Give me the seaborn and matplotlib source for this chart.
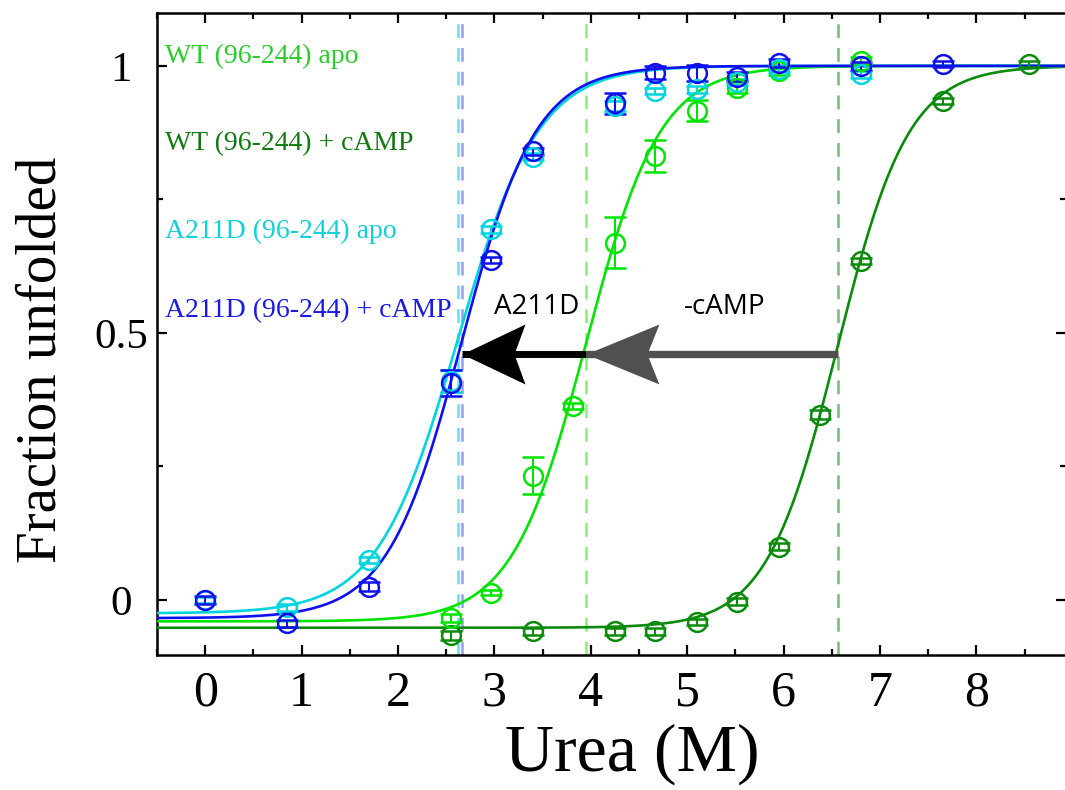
import numpy as np
import pandas as pd
import matplotlib
matplotlib.use("Agg")
import matplotlib.pyplot as plt
import seaborn as sns
from matplotlib.path import Path

# ---- measured unfolding data (urea in M, fraction unfolded, error) ----
wt_apo_urea = [2.55, 2.97, 3.40, 3.82, 4.25, 4.67, 5.10, 5.52, 5.95, 6.80]
wt_apo_frac = [-0.034, 0.014, 0.233, 0.363, 0.669, 0.831, 0.916, 0.959, 0.990, 1.010]
wt_apo_err = [0.008, 0.005, 0.034, 0.006, 0.048, 0.030, 0.020, 0.010, 0.008, 0.006]

wt_camp_urea = [2.55, 3.40, 4.25, 4.67, 5.10, 5.52, 5.95, 6.38, 6.80, 7.65, 8.55]
wt_camp_frac = [-0.066, -0.059, -0.059, -0.059, -0.041, -0.003, 0.100, 0.347, 0.635, 0.934, 1.003]
wt_camp_err = [0.008, 0.006, 0.006, 0.006, 0.006, 0.006, 0.006, 0.008, 0.006, 0.006, 0.006]

mut_apo_urea = [0.00, 0.85, 1.70, 2.55, 2.97, 3.40, 4.25, 4.67, 5.10, 5.52, 5.95, 6.80]
mut_apo_frac = [0.000, -0.014, 0.075, 0.410, 0.694, 0.830, 0.925, 0.953, 0.956, 0.970, 0.994, 0.984]
mut_apo_err = [0.006, 0.006, 0.006, 0.020, 0.006, 0.006, 0.010, 0.006, 0.006, 0.006, 0.006, 0.006]

mut_camp_urea = [0.00, 0.85, 1.70, 2.55, 2.97, 3.40, 4.25, 4.67, 5.10, 5.52, 5.95, 6.80, 7.65]
mut_camp_frac = [0.000, -0.044, 0.025, 0.406, 0.637, 0.840, 0.930, 0.987, 0.987, 0.980, 1.005, 1.000, 1.003]
mut_camp_err = [0.008, 0.006, 0.008, 0.025, 0.006, 0.006, 0.020, 0.012, 0.015, 0.008, 0.008, 0.008, 0.006]

# ---- two-state fit parameters: midpoint Cm, steepness, folded baseline ----
series_labels = ["WT (96-244) apo", "WT (96-244) + cAMP",
                 "A211D (96-244) apo", "A211D (96-244) + cAMP"]
fit_cm = [3.95, 6.56, 2.62, 2.66]
fit_k = [2.6, 2.7, 2.4, 2.6]
fit_base = [-0.040, -0.052, -0.025, -0.034]
fit_top = [1.0, 1.0, 1.0, 1.0]

line_colors = ["#00e400", "#0b8a0b", "#00d4dc", "#1010ee"]
text_colors = ["#2ccc2c", "#137a13", "#10d0d8", "#1a1ae0"]
dash_colors = ["#88ee77", "#77bb77", "#66e0ee", "#9a9aee"]

arrow_y = 0.46

sns.set_theme(style="ticks")
plt.rcParams["font.family"] = ["Liberation Serif", "DejaVu Serif"]
plt.rcParams["text.color"] = "black"
plt.rcParams["axes.labelcolor"] = "black"
plt.rcParams["xtick.color"] = "black"
plt.rcParams["ytick.color"] = "black"

fig = plt.figure(figsize=(10.65, 7.9), dpi=100)
ax = fig.add_axes([157 / 1065, 1 - 655 / 790, (1066 - 157) / 1065, (655 - 13) / 790])

# midpoint guide lines
for cm, dc in zip(fit_cm, dash_colors):
    ax.axvline(cm, color=dc, lw=1.8, ls=(0, (5.5, 4)), zorder=1)

# fitted curves
grid = np.linspace(-0.5, 8.93, 400)
order = [1, 0, 2, 3]
for i in order:
    frac = fit_base[i] + (fit_top[i] - fit_base[i]) / (1 + np.exp(-fit_k[i] * (grid - fit_cm[i])))
    df = pd.DataFrame({"urea": grid, "frac": frac})
    sns.lineplot(data=df, x="urea", y="frac", color=line_colors[i], lw=1.9, ax=ax, zorder=3)

# data points with error bars
point_sets = [
    (wt_apo_urea, wt_apo_frac, wt_apo_err),
    (wt_camp_urea, wt_camp_frac, wt_camp_err),
    (mut_apo_urea, mut_apo_frac, mut_apo_err),
    (mut_camp_urea, mut_camp_frac, mut_camp_err),
]
for i in order:
    xs, ys, es = point_sets[i]
    ax.errorbar(xs, ys, yerr=es, fmt="o", ms=13.5, mfc="none", mec=line_colors[i],
                mew=1.8, ecolor=line_colors[i], elinewidth=1.5, capsize=8,
                capthick=1.5, zorder=4)

# shift arrows between midpoints
def head(length, half_w, notch):
    verts = [(0, 0), (length, half_w), (notch, 0), (length, -half_w), (0, 0)]
    codes = [Path.MOVETO, Path.LINETO, Path.LINETO, Path.LINETO, Path.CLOSEPOLY]
    return Path(verts, codes)

gray = "#505050"
ax.plot([fit_cm[1], fit_cm[0]], [arrow_y, arrow_y], color=gray, lw=5.3,
        solid_capstyle="butt", zorder=5)
ax.plot([fit_cm[0]], [arrow_y], marker=head(73, 30, 61), ms=105, color=gray,
        mew=0, zorder=5)
ax.plot([fit_cm[0], fit_cm[3]], [arrow_y, arrow_y], color="black", lw=5.0,
        solid_capstyle="butt", zorder=6)
ax.plot([fit_cm[3]], [arrow_y], marker=head(63, 30, 52), ms=90.7, color="black",
        mew=0, zorder=6)

ax.text(3.44, 0.548, "A211D", family=["Open Sans", "DejaVu Sans"], fontsize=20,
        ha="center", va="center", color="black", zorder=7)
ax.text(5.39, 0.548, "-cAMP", family=["Open Sans", "DejaVu Sans"], fontsize=20,
        ha="center", va="center", color="black", zorder=7)

# series labels
label_y = [1.017, 0.854, 0.690, 0.542]
for lab, ly, tc in zip(series_labels, label_y, text_colors):
    ax.text(-0.415, ly, lab, color=tc, fontsize=20, ha="left", va="center", zorder=7)

# axes styling
ax.set_xticks(range(0, 9))
ax.set_xticks(np.arange(-0.5, 9.0, 0.5), minor=True)
ax.set_yticks([0, 0.5, 1])
ax.set_yticklabels(["0", "0.5", "1"])
ax.set_yticks([0.25, 0.75], minor=True)
ax.set_xlim(-0.5, 8.93)
ax.set_ylim(-0.103, 1.099)
ax.tick_params(which="both", direction="in", top=True, right=True, width=1.6, color="black")
ax.tick_params(which="major", length=7.5)
ax.tick_params(which="minor", length=4)
ax.tick_params(axis="x", which="major", labelsize=36, pad=11)
ax.tick_params(axis="y", which="major", labelsize=31, pad=26)
for lab in ax.get_yticklabels():
    lab.set_ha("center")
for sp in ax.spines.values():
    sp.set_linewidth(1.8)
    sp.set_color("black")

ax.set_xlabel("Urea (M)", fontsize=49, va="center")
ax.xaxis.set_label_coords(0.5226, -0.155)
ax.set_ylabel("Fraction unfolded", fontsize=41, va="center")
ax.yaxis.set_label_coords(-0.1276, 0.4595)

fig.savefig("out.png", dpi=100, facecolor="white")
